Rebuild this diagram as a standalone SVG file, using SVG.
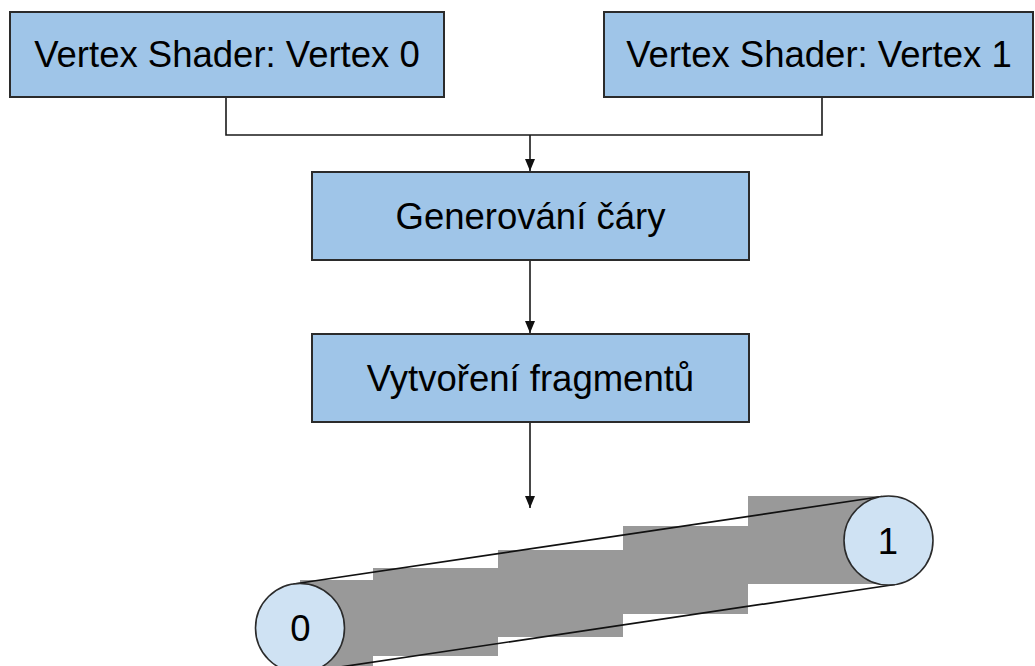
<svg xmlns="http://www.w3.org/2000/svg" width="1035" height="666" viewBox="0 0 1035 666">
  <style>
    .box { fill: #9fc5e8; stroke: #2b2b2b; stroke-width: 2; }
    .lbl { font-family: "Liberation Sans", Arial, sans-serif; font-size: 36.5px; fill: #000000; text-anchor: middle; }
    .conn { fill: none; stroke: #1a1a1a; stroke-width: 1.6; }
    .px { fill: #999999; }
    .edge { stroke: #111111; stroke-width: 1.7; fill: none; }
    .vtx { fill: #cfe2f3; stroke: #2b2b2b; stroke-width: 1.6; }
  </style>
  <defs>
    <marker id="arrow" viewBox="0 0 12 10" refX="12" refY="5" markerWidth="12" markerHeight="10" markerUnits="userSpaceOnUse" orient="auto">
      <path d="M0,0 L12,5 L0,10 z" fill="#111111"/>
    </marker>
  </defs>
  <rect width="1035" height="666" fill="#ffffff"/>

  <g id="connectors">
    <path class="conn" d="M226,97 V135 H822 V97"/>
    <path class="conn" d="M530,135 V171" marker-end="url(#arrow)"/>
    <path class="conn" d="M530,260 V333" marker-end="url(#arrow)"/>
    <path class="conn" d="M530,422 V508" marker-end="url(#arrow)"/>
  </g>

  <g id="vs0">
    <rect class="box" x="10" y="12" width="434" height="85"/>
    <text class="lbl" x="227" y="67">Vertex Shader: Vertex 0</text>
  </g>
  <g id="vs1">
    <rect class="box" x="604" y="12" width="429" height="85"/>
    <text class="lbl" x="819" y="67">Vertex Shader: Vertex 1</text>
  </g>
  <g id="gen">
    <rect class="box" x="312" y="172" width="437" height="88"/>
    <text class="lbl" x="530.5" y="229">Generování čáry</text>
  </g>
  <g id="frag">
    <rect class="box" x="312" y="334" width="437" height="88"/>
    <text class="lbl" x="530.5" y="391">Vytvoření fragmentů</text>
  </g>

  <g id="line-raster">
    <rect class="px" x="300" y="580" width="73" height="90"/>
    <rect class="px" x="373" y="568" width="125" height="88"/>
    <rect class="px" x="498" y="550" width="125" height="87"/>
    <rect class="px" x="623" y="526" width="125" height="88"/>
    <rect class="px" x="748" y="496" width="140" height="88"/>
    <line class="edge" x1="293.5" y1="584" x2="882" y2="496.5"/>
    <line class="edge" x1="306.5" y1="672" x2="895" y2="584.5"/>
  </g>
  <g id="v0">
    <circle class="vtx" cx="300" cy="628" r="44.5"/>
    <text class="lbl" x="300.5" y="641">0</text>
  </g>
  <g id="v1">
    <circle class="vtx" cx="888.5" cy="540.5" r="44.5"/>
    <text class="lbl" x="888" y="553.5">1</text>
  </g>
</svg>
